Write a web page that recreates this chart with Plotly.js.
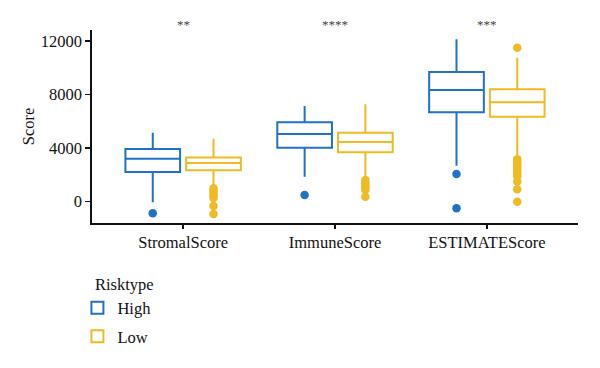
<!DOCTYPE html>
<html>
<head>
<meta charset="utf-8">
<script src="https://cdn.plot.ly/plotly-3.0.1.min.js"></script>
<style>html,body{margin:0;padding:0;background:#fff;}#chart{width:600px;height:368px;}</style>
</head>
<body>
<div id="chart"></div>
<script>
var categories = ["StromalScore", "ImmuneScore", "ESTIMATEScore"];
var significance = ["**", "****", "***"];
var yTickVals = [0, 4000, 8000, 12000];
var yTickText = ["0", "4000", "8000", "12000"];

var highQ1 = [2210, 4025, 6670];
var highMedian = [3200, 5050, 8340];
var highQ3 = [3930, 5920, 9690];
var highLower = [-60, 1850, 2680];
var highUpper = [5150, 7140, 12130];
var highOutliers = [[-880], [490], [2060, -510]];

var lowQ1 = [2330, 3680, 6340];
var lowMedian = [2880, 4450, 7420];
var lowQ3 = [3300, 5150, 8390];
var lowLower = [1110, 1850, 3350];
var lowUpper = [4700, 7270, 10750];
var lowOutliers = [
  [990, 800, 640, 450, 260, -340, -940],
  [1610, 1420, 1230, 1050, 860, 360],
  [11500, 3160, 2980, 2800, 2620, 2440, 2250, 2060, 1880, 1500, 910, -20]
];

var blue = "#2171c4";
var yellow = "#efbb22";
var serif = "Liberation Serif";

function boxTrace(name, color, q1, med, q3, lo, hi, pts) {
  return {
    type: "box",
    name: name,
    legendgroup: name,
    x: categories,
    q1: q1, median: med, q3: q3,
    lowerfence: lo, upperfence: hi,
    y: pts,
    boxpoints: "outliers",
    whiskerwidth: 0,
    fillcolor: "rgba(255,255,255,0)",
    line: {color: color, width: 2},
    marker: {color: color, size: 8.5, opacity: 1, outliercolor: color, line: {width: 0}},
    hoverinfo: "skip"
  };
}

var data = [
  boxTrace("High", blue, highQ1, highMedian, highQ3, highLower, highUpper, highOutliers),
  boxTrace("Low", yellow, lowQ1, lowMedian, lowQ3, lowLower, lowUpper, lowOutliers)
];

var annotations = categories.map(function (c, i) {
  return {x: c, xref: "x", y: 1.0, yref: "paper", yanchor: "bottom", yshift: -4,
          text: significance[i], showarrow: false,
          font: {family: serif, size: 13, color: "#444"}};
});
annotations.push({
  x: 0.002, xref: "paper", xanchor: "left", y: -0.321, yref: "paper", yanchor: "middle",
  text: "Risktype", showarrow: false,
  font: {family: serif, size: 16.5, color: "#111"}
});

var layout = {
  width: 600, height: 368,
  margin: {l: 92, r: 22, t: 30, b: 145},
  paper_bgcolor: "#fff", plot_bgcolor: "#fff",
  font: {family: serif, color: "#111", size: 16},
  boxmode: "group", boxgap: 0.2, boxgroupgap: 0.1,
  xaxis: {
    type: "category", range: [-0.6, 2.6],
    showline: true, linecolor: "#111", linewidth: 1.6,
    ticks: "outside", ticklen: 4, tickwidth: 1.4, tickcolor: "#111",
    showgrid: false, zeroline: false,
    tickfont: {family: serif, size: 16.5, color: "#111"}
  },
  yaxis: {
    range: [-1608, 12830],
    tickvals: yTickVals, ticktext: yTickText,
    showline: true, linecolor: "#111", linewidth: 1.6,
    ticks: "outside", ticklen: 5, tickwidth: 1.4, tickcolor: "#111",
    showgrid: false, zeroline: false,
    tickfont: {family: serif, size: 16.5, color: "#111"},
    title: {text: "Score", font: {family: serif, size: 16.5, color: "#111"}, standoff: 2}
  },
  showlegend: true,
  legend: {
    x: -0.03, xanchor: "left", y: -0.35, yanchor: "top",
    orientation: "v", traceorder: "grouped",
    font: {family: serif, size: 16.5},
    tracegroupgap: 4, itemwidth: 30
  },
  annotations: annotations
};

Plotly.newPlot("chart", data, layout, {staticPlot: true, displayModeBar: false});
</script>
</body>
</html>
